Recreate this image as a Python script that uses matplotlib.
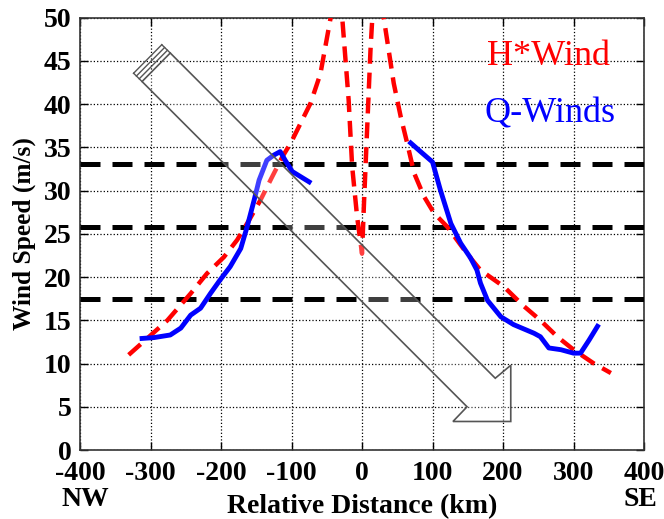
import matplotlib
matplotlib.use("Agg")
import matplotlib.pyplot as plt
from matplotlib.patches import Polygon

plt.rcParams['font.family'] = ['Liberation Serif', 'DejaVu Serif']
plt.rcParams['axes.unicode_minus'] = False

# H*Wind profile (red dashed); peaks run off the top
hwind_x = [-331, -302, -276, -243, -220, -196, -177, -160, -144, -128, -113, -101, -87, -73, -59, -40,
           -30, -19, -14, -7, 0, 3, 7, 12, 16,
           27, 45, 55, 64, 74, 88, 102, 121, 149, 168, 201, 230, 253, 277, 300, 329, 353]
hwind_y = [11.0, 13.1, 15.0, 18.1, 20.4, 22.3, 24.3, 26.6, 28.9, 31.5, 33.9, 35.5, 37.8, 40.1, 43.5, 52.0,
           52.0, 40.5, 32.8, 27.0, 22.7, 28.9, 36.6, 46.2, 52.0,
           52.0, 42.4, 38.5, 35.5, 32.0, 29.3, 27.4, 25.8, 22.7, 20.8, 18.9, 16.6, 15.0, 13.1, 11.6, 10.0, 8.9]

# Q-Winds profile (blue solid), two separate legs
qw_left_x = [-312, -295, -272, -257, -243, -229, -215, -201, -187, -172, -163, -153, -146, -135, -125, -116, -109, -99, -87, -75]
qw_left_y = [12.9, 13.0, 13.3, 14.1, 15.6, 16.4, 18.1, 19.7, 21.2, 23.3, 25.8, 28.9, 31.2, 33.5, 34.1, 34.5, 33.5, 32.2, 31.6, 31.0]
qw_right_x = [69, 83, 100, 111, 126, 140, 154, 163, 168, 178, 197, 215, 244, 253, 265, 282, 300, 310, 322, 334]
qw_right_y = [35.5, 34.5, 33.3, 30.1, 26.2, 23.9, 22.2, 20.8, 19.3, 17.3, 15.4, 14.5, 13.5, 13.1, 11.8, 11.6, 11.2, 11.2, 12.7, 14.3]

# thresholds (black dashed)
thresholds = [17.5, 25.8, 33.1]

# direction arrow outline (data coords)
arrow_x = [-272, 189, 211, 211, 129, 149, -312]
arrow_y = [45.9, 8.3, 9.8, 3.3, 3.3, 5.0, 42.6]

fig = plt.figure(figsize=(6.64, 5.19), dpi=100)
ax = fig.add_axes([0.1205, 0.1329, 0.8494, 0.8333])

ax.grid(True, linestyle=':', color='black', linewidth=0.9)
ax.set_axisbelow(True)

for t in thresholds:
    ax.axhline(t, color='black', linestyle=(0, (4, 2.4)), linewidth=3.6, zorder=3)

ax.plot(hwind_x, hwind_y, color='red', linestyle=(0, (3.6, 2.0)), linewidth=3.2, zorder=4)
ax.plot(qw_left_x, qw_left_y, color='blue', linewidth=3.5, zorder=5)
ax.plot(qw_right_x, qw_right_y, color='blue', linewidth=3.5, zorder=5)

# semi-transparent arrow on top
arr = Polygon(list(zip(arrow_x, arrow_y)), closed=True, facecolor=(1, 1, 1, 0.25),
              edgecolor='#555555', linewidth=1.2, zorder=6)
ax.add_patch(arr)
# stacked tail edges
for k in range(1, 4):
    dx, dy = -4.0 * k, 0.32 * k
    ax.plot([arrow_x[-1] + dx, arrow_x[0] + dx], [arrow_y[-1] + dy, arrow_y[0] + dy],
            color='#555555', linewidth=1.0, zorder=6)
ax.plot([arrow_x[-1], arrow_x[-1] - 12], [arrow_y[-1], arrow_y[-1] + 0.96], color='#555555', linewidth=1.0, zorder=6)
ax.plot([arrow_x[0], arrow_x[0] - 12], [arrow_y[0], arrow_y[0] + 0.96], color='#555555', linewidth=1.0, zorder=6)

ax.set_xlim(-400, 400)
ax.set_ylim(0, 50)
ax.set_xticks(range(-400, 401, 100))
ax.set_yticks(range(0, 51, 5))
ax.tick_params(direction='in', length=6, width=1, top=True, right=True, labelsize=20, pad=6)
ax.tick_params(axis='x', pad=8)
for lab in ax.get_xticklabels() + ax.get_yticklabels():
    lab.set_fontweight('bold')
for sp in ax.spines.values():
    sp.set_color('#333333')
    sp.set_linewidth(1.2)

ax.set_ylabel('Wind Speed (m/s)', fontsize=18.3, fontweight='bold', labelpad=6)
ax.set_xlabel('Relative Distance (km)', fontsize=20, fontweight='bold', labelpad=6)

fig.text(85 / 664, 1 - 500 / 519, 'NW', fontsize=20, fontweight='bold', ha='center', va='center')
fig.text(640 / 664, 1 - 500 / 519, 'SE', fontsize=20, fontweight='bold', ha='center', va='center')

fig.text(548 / 664, 1 - 65 / 519, 'H*Wind', color='red', fontsize=26, ha='center', va='baseline')
fig.text(550 / 664, 1 - 122 / 519, 'Q-Winds', color='blue', fontsize=26, ha='center', va='baseline')

fig.savefig('out.png', dpi=100)
